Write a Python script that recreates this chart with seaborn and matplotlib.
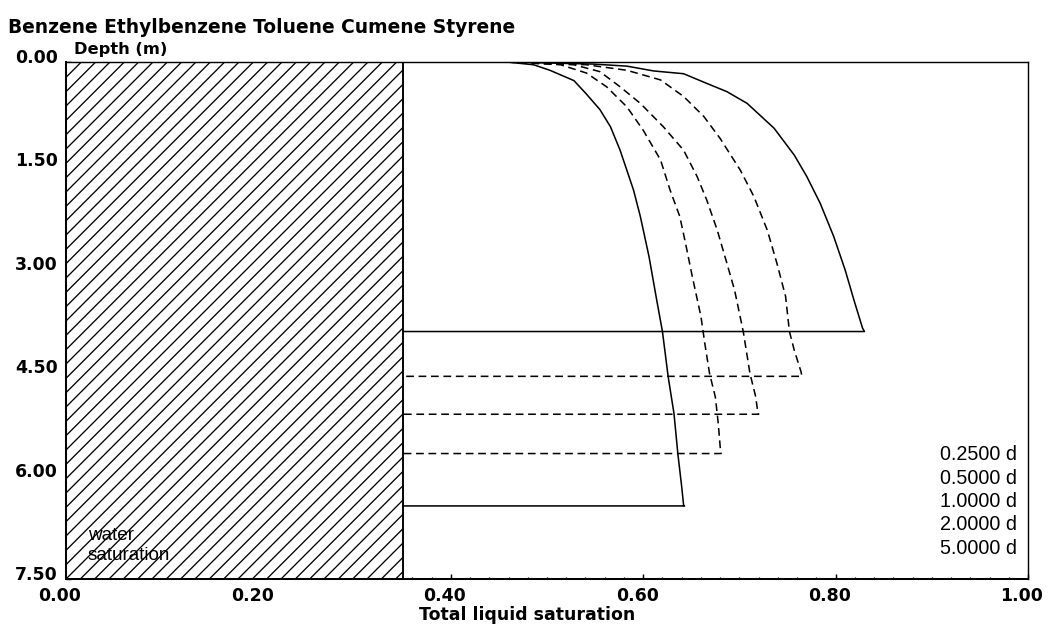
import matplotlib
matplotlib.use("Agg")
import matplotlib.pyplot as plt
import matplotlib.transforms as mtransforms
from matplotlib.ticker import MultipleLocator, FormatStrFormatter
import numpy as np
import pandas as pd
import seaborn as sns

# ---------------- data ----------------
title_text = "Benzene Ethylbenzene Toluene Cumene Styrene"
times = ["0.2500 d", "0.5000 d", "1.0000 d", "2.0000 d", "5.0000 d"]
line_styles = ["solid", "dashed", "dashed", "dashed", "solid"]
water_sat = 0.35

sat_025 = [0.458, 0.548, 0.583, 0.611, 0.642, 0.666, 0.687, 0.708, 0.736, 0.757,
           0.770, 0.784, 0.798, 0.810, 0.819, 0.828, 0.830]
depth_025 = [0.00, 0.03, 0.06, 0.13, 0.17, 0.31, 0.43, 0.60, 0.96, 1.35,
             1.66, 2.05, 2.53, 3.02, 3.45, 3.86, 3.91]

sat_05 = [0.458, 0.541, 0.583, 0.618, 0.642, 0.663, 0.680, 0.701, 0.715, 0.729,
          0.739, 0.748, 0.752, 0.757, 0.764, 0.765]
depth_05 = [0.00, 0.04, 0.12, 0.26, 0.50, 0.79, 1.11, 1.57, 1.95, 2.44,
            2.92, 3.40, 3.91, 4.18, 4.49, 4.56]

sat_1 = [0.458, 0.528, 0.555, 0.576, 0.597, 0.621, 0.642, 0.656, 0.666, 0.677,
         0.687, 0.695, 0.704, 0.711, 0.717, 0.719, 0.720]
depth_1 = [0.00, 0.04, 0.14, 0.36, 0.60, 0.94, 1.28, 1.66, 2.00, 2.44,
           2.92, 3.31, 3.91, 4.52, 4.86, 5.07, 5.11]

sat_2 = [0.458, 0.514, 0.541, 0.562, 0.583, 0.600, 0.618, 0.628, 0.638, 0.644,
         0.651, 0.660, 0.664, 0.669, 0.675, 0.678, 0.680, 0.681]
depth_2 = [0.00, 0.04, 0.16, 0.36, 0.65, 0.99, 1.42, 1.86, 2.24, 2.63,
           3.11, 3.69, 4.08, 4.52, 4.86, 5.24, 5.58, 5.68]

sat_5 = [0.458, 0.486, 0.503, 0.528, 0.540, 0.555, 0.566, 0.576, 0.590, 0.597,
         0.606, 0.614, 0.620, 0.626, 0.632, 0.636, 0.640, 0.642, 0.643]
depth_5 = [0.00, 0.04, 0.12, 0.27, 0.45, 0.69, 0.94, 1.28, 1.86, 2.24,
           2.82, 3.45, 3.91, 4.57, 5.10, 5.68, 6.16, 6.43, 6.44]

sat_series = [sat_025, sat_05, sat_1, sat_2, sat_5]
depth_series = [depth_025, depth_05, depth_1, depth_2, depth_5]

x_ticks = [0.0, 0.2, 0.4, 0.6, 0.8, 1.0]
y_ticks = [0.0, 1.5, 3.0, 4.5, 6.0, 7.5]

# ---------------- style ----------------
DPI = 86
sns.set_style("ticks")
plt.rcParams["font.family"] = ["DejaVu Sans"]
plt.rcParams["text.color"] = "black"
plt.rcParams["axes.labelcolor"] = "black"
plt.rcParams["xtick.color"] = "black"
plt.rcParams["ytick.color"] = "black"
plt.rcParams["hatch.linewidth"] = 1.1
plt.rcParams["hatch.color"] = "black"

W, H = 1049, 625
fig = plt.figure(figsize=(W / DPI, H / DPI), dpi=DPI)
fig.patch.set_facecolor("white")
ax = fig.add_axes([66 / W, 1 - 579 / H, (1028 - 66) / W, (579 - 62) / H])
ax.set_facecolor("white")

# water saturation hatched band
ax.axvspan(0, water_sat, facecolor="white", edgecolor="black", hatch="//",
           linewidth=1.6, zorder=1)

# profiles with their front lines back to the water saturation
for sats, deps, ls in zip(sat_series, depth_series, line_styles):
    df = pd.DataFrame({"sat": list(sats) + [water_sat],
                       "depth": list(deps) + [deps[-1]]})
    sns.lineplot(data=df, x="sat", y="depth", sort=False, estimator=None,
                 color="black", linewidth=1.3, ax=ax, zorder=3,
                 **({"linestyle": (0, (5, 3))} if ls == "dashed" else {}))

ax.set_xlim(0, 1)
ax.set_ylim(7.5, 0)
ax.set_xticks(x_ticks)
ax.set_yticks(y_ticks)
ax.xaxis.set_minor_locator(MultipleLocator(0.02))
ax.yaxis.set_minor_locator(MultipleLocator(0.15))
ax.xaxis.set_major_formatter(FormatStrFormatter("%.2f"))
ax.yaxis.set_major_formatter(FormatStrFormatter("%.2f"))
ax.tick_params(which="major", direction="in", length=4, width=1.2,
               labelsize=14.6, pad=7, colors="black")
ax.tick_params(which="minor", direction="in", length=2, width=1.0, colors="black")
ax.tick_params(axis="x", which="both", top=False)
ax.tick_params(axis="y", which="both", right=False)
for lab in ax.get_xticklabels() + ax.get_yticklabels():
    lab.set_fontweight("bold")
    lab.set_color("black")
yshift = mtransforms.ScaledTranslation(0, 6 / DPI, fig.dpi_scale_trans)
for lab in ax.get_yticklabels():
    lab.set_transform(lab.get_transform() + yshift)
xshift = mtransforms.ScaledTranslation(-6 / DPI, 0, fig.dpi_scale_trans)
for lab in ax.get_xticklabels():
    lab.set_transform(lab.get_transform() + xshift)

for side in ["left", "bottom"]:
    ax.spines[side].set_linewidth(1.7)
for side in ["top", "right"]:
    ax.spines[side].set_linewidth(1.2)
for s in ax.spines.values():
    s.set_color("black")
    s.set_zorder(5)

ax.set_ylabel("")
ax.set_xlabel("Total liquid saturation", fontsize=14.6, fontweight="bold",
              color="black")
ax.xaxis.set_label_coords((527 - 66) / (1028 - 66), (579 - 615) / 517)
ax.xaxis.label.set_va("center")

# titles
fig.text(8 / W, 1 - 33 / H, title_text, fontsize=15.6, fontweight="bold",
         ha="left", va="baseline", color="black")
ax.text(0.008, 1 + 8 / 517, "Depth (m)", transform=ax.transAxes,
        fontsize=13.6, fontweight="bold", ha="left", va="baseline",
        color="black")

# time legend
for i, t in enumerate(times):
    ax.text((1017 - 66) / 962, (579 - 455 - i * 23.3) / 517, t,
            transform=ax.transAxes, ha="right", va="center", color="black",
            fontsize=16.5, family=["Liberation Sans", "DejaVu Sans"], zorder=6)

ax.text((88 - 66) / 962, (579 - 545.5) / 517, "water\nsaturation",
        transform=ax.transAxes, ha="left", va="center", linespacing=1.25,
        fontsize=15.8, family=["Liberation Sans", "DejaVu Sans"], zorder=6,
        color="black")

fig.savefig("out.png", dpi=DPI)
